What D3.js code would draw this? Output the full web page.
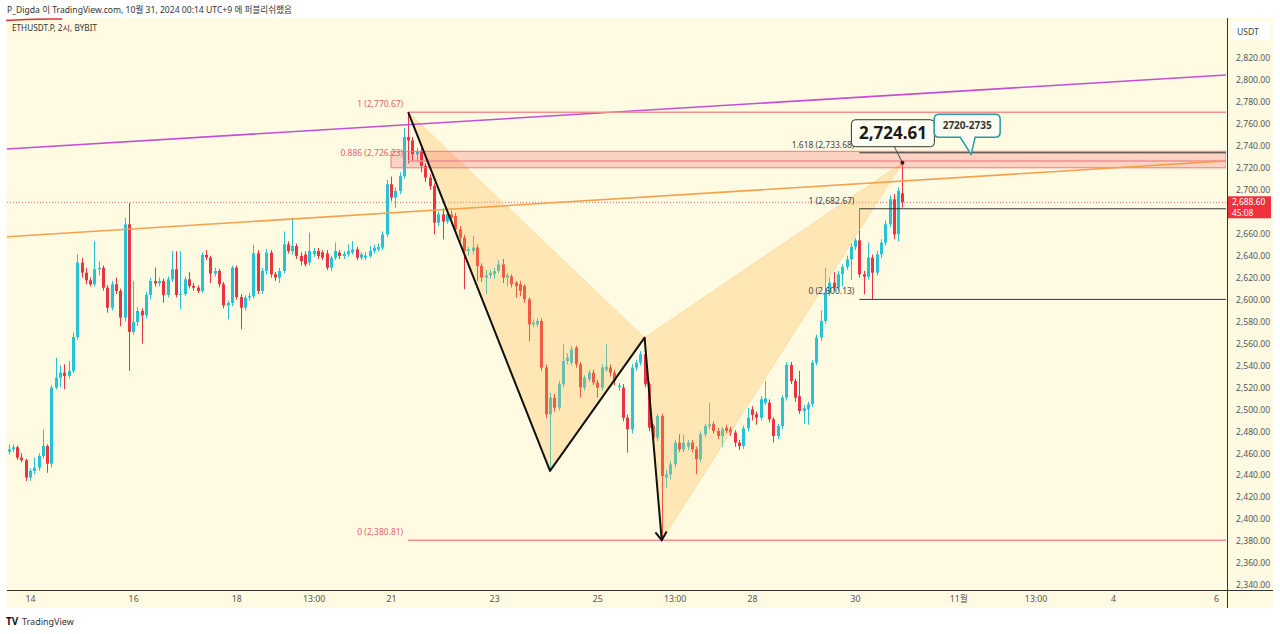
<!DOCTYPE html>
<html><head><meta charset="utf-8">
<script src="https://cdn.jsdelivr.net/npm/d3@7"></script>
<style>
html,body{margin:0;padding:0;background:#fff;}
svg{display:block;font-family:"Noto Sans","Noto Sans CJK KR",sans-serif;}
</style></head><body>
<svg id="c" width="1280" height="634"></svg>
<script>
// ---------------- DATA ----------------
const firstCandle = "2024-10-13T15:00"; // UTC+9 wall clock, 2h candles
const candleHours = 2;
const opens = [2461.5,2463.6,2465.5,2456,2453.6,2437.8,2443.9,2446.9,2457.5,2466.6,2450.5,2519.8,2528.9,2533.4,2530.4,2535,2565.9,2633.6,2624.5,2617.5,2613.9,2627.5,2629,2610.8,2592.6,2613.9,2607.8,2583.5,2668.5,2570.5,2579.6,2589.6,2585.6,2604.2,2616.9,2614.8,2616.9,2604.2,2618.4,2627.5,2604.2,2605,2618.4,2612.4,2610.8,2607.8,2640.6,2638.2,2623.6,2626,2613.9,2594.7,2596.9,2629.1,2602.3,2592.6,2601.7,2603,2642.1,2607.8,2626,2642.7,2623,2620,2626,2650.3,2644.2,2648.8,2639.7,2641,2633.6,2641.2,2644.2,2643,2642,2629,2638.1,2642.7,2639.7,2641.2,2642.7,2645.7,2638.1,2638,2639.7,2644.2,2645.7,2647.3,2659.4,2705,2692.8,2698.9,2712.5,2748,2745,2732.3,2735.3,2721.6,2711,2703.4,2670,2677.6,2671,2677.6,2676,2664,2656.4,2644.2,2644.2,2647.3,2630.6,2620,2622,2623,2626,2632,2620,2621,2615.4,2613.9,2612.4,2600.2,2577.4,2577.4,2580.5,2538,2495.5,2510.6,2501.5,2522.8,2544,2542.5,2556.2,2541,2519.8,2527.4,2533.4,2524.3,2519.8,2536,2538,2533.4,2520,2519.8,2492.4,2481.8,2538,2542.5,2550.1,2522.8,2484.8,2474.2,2493.9,2437.8,2440.8,2449.9,2469.7,2463.6,2466,2469.7,2463.6,2454.5,2477.3,2484.8,2486.4,2480.3,2475.7,2483.3,2481.8,2478.8,2469.7,2466.6,2482.7,2500,2495.5,2492.4,2506,2506.1,2490.9,2475.7,2484.8,2510.7,2540.4,2525.8,2512,2498.5,2500,2504.6,2542.5,2565.3,2580.5,2606.3,2615.4,2610.8,2623,2629.6,2636.6,2647.9,2653.9,2623,2620.8,2638.2,2624.5,2641.2,2651.8,2668.5,2691.3,2659.4,2696.8];
const highs = [2468,2468,2467,2460,2455,2446,2456,2460,2481.8,2468,2522,2547,2540,2541,2544,2570,2641.2,2638,2629,2620,2653.3,2635,2631,2613,2617,2620,2610,2674.6,2688,2617,2593,2592,2607,2620,2629.1,2620,2619,2621,2644.2,2644,2644,2621,2625,2615,2613,2643,2645,2640,2629,2628,2616,2599,2631,2631,2605,2604,2606,2650,2645,2629,2646,2645,2625,2629,2662,2653,2674.6,2651,2643,2644,2660.9,2647,2647,2645,2645,2640,2651.8,2645,2644,2650.3,2653.3,2648,2643,2643,2648.8,2650,2651,2662,2709,2712,2702,2716,2756.5,2770.67,2748,2738,2740,2724,2714,2706,2680,2683,2683,2681,2679,2667,2659,2648,2657.9,2650,2633,2627,2627,2629,2636,2637,2624,2623,2617,2617,2614,2602,2582,2583,2583,2541,2515,2514,2526,2559.2,2551,2557.7,2558,2543,2531,2536,2536,2527,2541,2559.2,2541,2536,2524,2523,2495,2541,2545,2553,2565.3,2525,2487,2496,2496,2445,2453,2472,2477.3,2477,2472,2472,2466,2480,2487,2506.1,2489,2483,2484,2486,2484,2481,2472,2485,2501.5,2503,2498,2512,2525.8,2509,2493,2487,2513,2543,2543,2528,2534.9,2504,2507,2545,2568,2590,2629.1,2620,2625,2626,2632,2640,2651,2656,2682.67,2626,2652,2641,2644,2655,2672,2695,2696,2702,2724.61];
const lows = [2459,2461,2454,2452,2434.7,2435,2441,2444,2455,2442.3,2447,2518,2520,2518.2,2528,2533,2563,2620,2614,2612,2612,2622,2608,2588.1,2590,2605,2575.9,2580,2535,2568,2576,2559.8,2583,2600,2612,2612,2597,2602,2616,2602,2591.1,2603,2610,2608,2606,2606,2636,2615,2621,2611,2592,2582,2594,2600,2572.9,2590,2599,2601,2605,2605,2623,2620,2617,2615,2624,2642,2641,2637,2631,2630,2631,2639,2637,2636,2627,2626,2636,2637,2637,2639,2641,2636,2636,2636,2638,2642,2644,2645,2657,2690,2683.7,2696,2710,2724,2726,2725,2716,2707,2700,2659.4,2667,2654.8,2669,2671,2661,2653,2609.3,2640,2641,2616.9,2616,2605,2619,2619,2624,2615,2612,2611,2601.7,2603,2597,2562,2575,2575,2535,2492,2443.9,2498,2499,2520,2541,2540,2538,2510.6,2517,2525,2522,2510.6,2517,2534,2530,2522,2517,2489,2460.6,2478,2535,2540,2520,2480,2471,2471,2380.81,2428.7,2436,2447,2461,2461,2463,2461,2440.8,2452,2475,2482,2478,2473,2466,2478,2476,2466,2463,2464,2480,2490,2486,2490,2504,2488,2469.7,2473,2482,2508,2523,2507,2496,2486.4,2486,2502,2540,2562,2578,2603,2608,2608,2612,2627,2618,2645,2620,2604.8,2618,2600.13,2622,2638,2649,2666,2655,2653,2683.7];
const closes = [2463.6,2465.5,2456,2453.6,2437.8,2443.9,2446.9,2457.5,2466.6,2450.5,2519.8,2528.9,2533.4,2530.4,2535,2565.9,2633.6,2624.5,2617.5,2613.9,2627.5,2629,2610.8,2592.6,2613.9,2607.8,2583.5,2668.5,2570.5,2579.6,2589.6,2585.6,2604.2,2616.9,2614.8,2616.9,2604.2,2618.4,2627.5,2604.2,2605,2618.4,2612.4,2610.8,2607.8,2640.6,2638.2,2623.6,2626,2613.9,2594.7,2596.9,2629.1,2602.3,2592.6,2601.7,2603,2642.1,2607.8,2626,2642.7,2623,2620,2626,2650.3,2644.2,2648.8,2639.7,2635,2632,2644.2,2644.2,2639.7,2638.1,2629,2638.1,2644.2,2639.7,2641.5,2644.2,2645.7,2638.1,2641.2,2640,2644.2,2647.3,2647.8,2659.4,2705,2692.8,2698.9,2712.5,2748,2745,2732.3,2735,2721.6,2711,2703.4,2670,2677.6,2671,2677.6,2674.6,2664,2656.4,2644.2,2645.7,2647.3,2630.6,2620,2622,2624.5,2626,2632,2620,2622,2614,2612.4,2607.8,2600.2,2577.4,2578.9,2580.5,2538,2495.5,2510.6,2501.5,2522.8,2544,2547.1,2554.7,2541,2519.8,2528.9,2533.4,2524.3,2519.8,2538,2538.9,2533.4,2525.8,2521.5,2492.4,2481.8,2538,2542.5,2550.1,2522.8,2483.3,2474.2,2493.9,2439.3,2440.8,2449.9,2469.7,2463.6,2469.7,2469.7,2463.6,2454.5,2477.3,2484.8,2486.4,2480.3,2475.7,2481.8,2480.3,2478.8,2469.7,2466.6,2482.7,2492.4,2494.9,2492.4,2509.1,2510,2490.9,2475.7,2484.8,2510.7,2540.4,2525.8,2510.7,2498.5,2501,2504.6,2542.5,2565.3,2580.5,2606.3,2615.4,2610.8,2623,2629.6,2636.6,2647.9,2653.9,2623,2620.8,2638.2,2624.5,2641.2,2651.8,2668.5,2691.3,2659.4,2698.9,2688.6];

const yTickValues = [2340,2360,2380,2400,2420,2440,2460,2480,2500,2520,2540,2560,2580,2600,2620,2640,2660,2700,2720,2740,2760,2780,2800,2820];
const xTickTimes = ["2024-10-14T01:00","2024-10-16T01:00","2024-10-18T01:00","2024-10-19T13:00","2024-10-21T01:00","2024-10-23T01:00","2024-10-25T01:00","2024-10-26T13:00","2024-10-28T01:00","2024-10-30T01:00","2024-11-01T01:00","2024-11-02T13:00","2024-11-04T01:00","2024-11-06T01:00"];
const xTickLabels = ["14","16","18","13:00","21","23","25","13:00","28","30","11월","13:00","4","6"];

const lastPrice = 2688.60;
const lastCountdown = "45:08";

const purpleTimes = ["2024-10-13T15:00","2024-11-06T01:00"];
const purplePrices = [2737.2, 2804.0];
const orangeTimes = ["2024-10-13T15:00","2024-11-06T01:00"];
const orangePrices = [2657.3, 2725.7];

const fibLeftLevels = ["1","0.886","0"];
const fibLeftPrices = [2770.67, 2726.23, 2380.81];
const fibLeftStartIdx = 93;
const fibRightLevels = ["1.618","1","0"];
const fibRightPrices = [2733.68, 2682.67, 2600.13];
const fibRightStartIdx = 198;

const zoneLow = 2720, zoneHigh = 2735, zoneStartIdx = 89;
const zoneLabel = "2720-2735";
const patternIdx = [93, 126, 148, 152, 208];
const patternPrices = [2770.67, 2443.9, 2565.3, 2380.81, 2724.61];
const calloutText = "2,724.61";

const headerText = "P_Digda 이 TradingView.com, 10월 31, 2024 00:14 UTC+9 에 퍼블리쉬했음";
const symbolText = "ETHUSDT.P, 2시, BYBIT";

// ---------------- LAYOUT ----------------
const svg = d3.select("#c");
const P = {l:7, r:1226, t:18, b:590};
const BG = "#fffbe3";
const UP = "#26c3d6", DOWN = "#ec3440";
const parseT = s => new Date(s + ":00Z");
const tRef = parseT("2024-10-14T01:00");
const pxPerCandle = 4.2975, xRef = 30;
const msC = candleHours*3600e3;
const x = d3.scaleUtc()
  .domain([new Date(+tRef - (xRef-P.l)/pxPerCandle*msC), new Date(+tRef + (P.r-xRef)/pxPerCandle*msC)])
  .range([P.l, P.r]);
const y = d3.scaleLinear().domain([2340, 2820]).range([585, 58]);
const t0 = parseT(firstCandle);
const tOf = i => new Date(+t0 + i*msC);
const data = opens.map((o,i)=>({t:tOf(i), o, h:highs[i], l:lows[i], c:closes[i]}));

// backgrounds
svg.append("rect").attr("width",1280).attr("height",634).attr("fill","#fff");
svg.append("rect").attr("x",6).attr("y",18).attr("width",1267).attr("height",590).attr("fill",BG);

// header
svg.append("text").attr("x",7).attr("y",13).attr("font-size",8.6).attr("fill","#333").text(headerText);
svg.append("path").attr("d","M6,20.5 Q30,18.5 62,19").attr("stroke","#e0303a").attr("stroke-width",1.5).attr("fill","none");
svg.append("text").attr("x",12).attr("y",31).attr("font-size",8.2).attr("fill","#333").text(symbolText);

const defs = svg.append("defs");
defs.append("clipPath").attr("id","pc").append("rect").attr("x",P.l).attr("y",P.t).attr("width",P.r-P.l).attr("height",P.b-P.t);
const g = svg.append("g").attr("clip-path","url(#pc)");

// current price dotted line
g.append("line").attr("x1",P.l).attr("x2",P.r).attr("y1",y(lastPrice)).attr("y2",y(lastPrice))
  .attr("stroke","#f06a72").attr("stroke-width",1).attr("stroke-dasharray","1,2");

// candles
const bw = 3;
const cg = g.append("g");
cg.selectAll("line.w").data(data).join("line")
  .attr("x1",d=>Math.round(x(d.t))+0.5).attr("x2",d=>Math.round(x(d.t))+0.5)
  .attr("y1",d=>y(d.h)).attr("y2",d=>y(d.l))
  .attr("stroke",d=>d.c>=d.o?UP:DOWN).attr("stroke-width",1);
cg.selectAll("rect.b").data(data).join("rect")
  .attr("x",d=>Math.round(x(d.t))-1).attr("width",bw)
  .attr("y",d=>y(Math.max(d.o,d.c)))
  .attr("height",d=>Math.max(1, y(Math.min(d.o,d.c))-y(Math.max(d.o,d.c))))
  .attr("fill",d=>d.c>=d.o?UP:DOWN);

// extended trend lines
function extLine(times, prices, color, w){
  const x1=x(parseT(times[0])), y1=y(prices[0]), x2=x(parseT(times[1])), y2=y(prices[1]);
  const k=(y2-y1)/(x2-x1);
  g.append("line").attr("x1",P.l).attr("y1",y1+(P.l-x1)*k).attr("x2",P.r).attr("y2",y1+(P.r-x1)*k)
    .attr("stroke",color).attr("stroke-width",w);
}

// pattern triangles
const pp = patternIdx.map((i,k)=>[x(tOf(i)), y(patternPrices[k])]);
[[0,1,2],[2,3,4]].forEach(tri=>{
  g.append("path").attr("d","M"+tri.map(k=>pp[k].join(",")).join("L")+"Z")
    .attr("fill","#ffb74d").attr("fill-opacity",0.3).attr("stroke","#ffcc80").attr("stroke-opacity",0.5);
});

// zone box
g.append("rect").attr("x",x(tOf(zoneStartIdx))).attr("width",P.r-x(tOf(zoneStartIdx)))
  .attr("y",y(zoneHigh)).attr("height",y(zoneLow)-y(zoneHigh))
  .attr("fill","#f23645").attr("fill-opacity",0.2).attr("stroke","#f07a82").attr("stroke-width",1);

extLine(purpleTimes, purplePrices, "#c44fd6", 1.6);
extLine(orangeTimes, orangePrices, "#f5a04a", 1.6);

// left fib
const fxL = x(tOf(fibLeftStartIdx));
fibLeftPrices.forEach((p,k)=>{
  g.append("line").attr("x1",fxL).attr("x2",P.r).attr("y1",y(p)).attr("y2",y(p)).attr("stroke","#f29090").attr("stroke-width",1.5);
  g.append("text").attr("x",fxL-5).attr("y",y(p)-5).attr("text-anchor","end").attr("font-size",8.5).attr("fill","#e8636b")
    .text(fibLeftLevels[k]+" ("+d3.format(",.2f")(p)+")");
});
// right fib
const fxR = x(tOf(fibRightStartIdx));
fibRightPrices.forEach((p,k)=>{
  g.append("line").attr("x1",fxR).attr("x2",P.r).attr("y1",y(p)).attr("y2",y(p)).attr("stroke","#333").attr("stroke-width",1);
  g.append("text").attr("x",fxR-5).attr("y",y(p)-5).attr("text-anchor","end").attr("font-size",8.5).attr("fill","#444")
    .text(fibRightLevels[k]+" ("+d3.format(",.2f")(p)+")");
});

// black path with arrow
g.append("path").attr("d","M"+pp.slice(0,4).map(p=>p.join(",")).join("L"))
  .attr("fill","none").attr("stroke","#111").attr("stroke-width",2).attr("stroke-linejoin","round");
{
  const [ax,ay]=pp[3], [bx,by]=pp[2];
  const ang=Math.atan2(ay-by, ax-bx), L=10, sp=0.6;
  const a1=[ax-L*Math.cos(ang-sp), ay-L*Math.sin(ang-sp)], a2=[ax-L*Math.cos(ang+sp), ay-L*Math.sin(ang+sp)];
  g.append("path").attr("d",`M${a1}L${ax},${ay}L${a2}`).attr("fill","none").attr("stroke","#111").attr("stroke-width",2);
}

// callout 2,724.61
{
  const [px,py]=pp[4];
  svg.append("line").attr("x1",px-8).attr("y1",py-16).attr("x2",px).attr("y2",py).attr("stroke","#444").attr("stroke-width",1);
  svg.append("circle").attr("cx",px).attr("cy",py).attr("r",2).attr("fill","#222");
  svg.append("rect").attr("x",px-51).attr("y",py-43).attr("width",83).attr("height",27).attr("rx",4)
    .attr("fill","#fffdf0").attr("stroke","#333").attr("stroke-width",1);
  svg.append("text").attr("x",px-9.5).attr("y",py-23.5).attr("text-anchor","middle").attr("font-size",17).attr("font-weight","bold").attr("fill","#1a1a1a").text(calloutText);
}
// callout zone label (speech bubble)
{
  const tx = x(tOf(224)), ty = y(zoneHigh)+3;
  const bx0=tx-37, bx1=tx+29, by0=ty-40, by1=ty-17, r=5;
  const d=`M${bx0+r},${by0}H${bx1-r}Q${bx1},${by0} ${bx1},${by0+r}V${by1-r}Q${bx1},${by1} ${bx1-r},${by1}H${tx+4}L${tx},${ty}L${tx-11},${by1}H${bx0+r}Q${bx0},${by1} ${bx0},${by1-r}V${by0+r}Q${bx0},${by0} ${bx0+r},${by0}Z`;
  svg.append("path").attr("d",d).attr("fill","#fffdf0").attr("stroke","#1f9ea6").attr("stroke-width",1.5);
  svg.append("text").attr("x",(bx0+bx1)/2).attr("y",by0+15).attr("text-anchor","middle").attr("font-size",10).attr("font-weight","bold").attr("fill","#333").text(zoneLabel);
}

// axes frame
svg.append("line").attr("x1",P.r+1.5).attr("x2",P.r+1.5).attr("y1",P.t).attr("y2",608).attr("stroke","#333").attr("stroke-width",1);
svg.append("line").attr("x1",P.l).attr("x2",1273).attr("y1",P.b+0.5).attr("y2",P.b+0.5).attr("stroke","#333").attr("stroke-width",1);

// y axis
const ya = svg.append("g").attr("transform",`translate(${P.r+2},0)`)
  .call(d3.axisRight(y).tickValues(yTickValues).tickFormat(d3.format(",.2f")).tickSize(0).tickPadding(8));
ya.select(".domain").remove();
ya.selectAll("text").attr("font-size",8.6).attr("fill","#555").attr("font-family",'"Noto Sans",sans-serif');

// USDT box
svg.append("rect").attr("x",1231).attr("y",22).attr("width",39).attr("height",18).attr("rx",2).attr("fill","#fff");
svg.append("text").attr("x",1237).attr("y",34.5).attr("font-size",8.6).attr("fill","#444").text("USDT");

// price tag
{
  const py=y(lastPrice);
  svg.append("rect").attr("x",1228).attr("y",py-6).attr("width",43).attr("height",22).attr("fill","#f0323f");
  svg.append("text").attr("x",1232).attr("y",py+3).attr("font-size",8.4).attr("fill","#fff").text(d3.format(",.2f")(lastPrice));
  svg.append("text").attr("x",1232).attr("y",py+13.8).attr("font-size",8.4).attr("fill","#fff").text(lastCountdown);
}

// x axis
const xa = svg.append("g").attr("transform",`translate(0,${P.b})`)
  .call(d3.axisBottom(x).tickValues(xTickTimes.map(parseT)).tickFormat((d,i)=>xTickLabels[i]).tickSize(0).tickPadding(6));
xa.select(".domain").remove();
xa.selectAll("text").attr("font-size",8.8).attr("fill","#555").attr("font-family",'"Noto Sans","Noto Sans CJK KR",sans-serif');

// footer logo
svg.append("text").attr("x",6).attr("y",625).attr("font-size",10).attr("font-weight","bold").attr("fill","#131722").text("TV");
svg.append("text").attr("x",22).attr("y",625).attr("font-size",9).attr("fill","#333").text("TradingView");
</script>
</body></html>
